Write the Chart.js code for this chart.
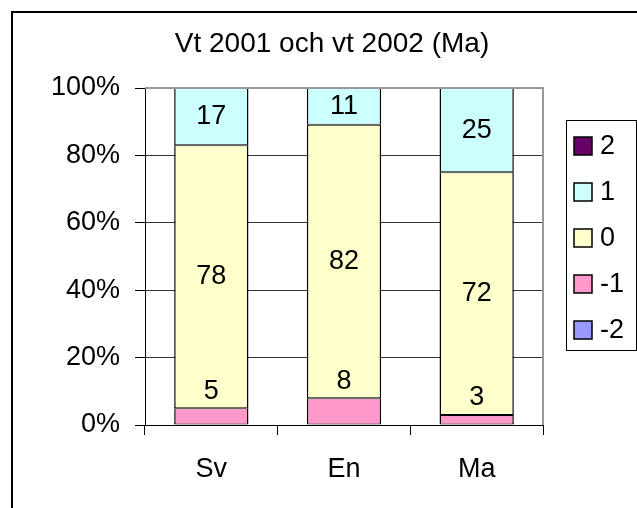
<!DOCTYPE html>
<html>
<head>
<meta charset="utf-8">
<script src="https://cdn.jsdelivr.net/npm/chart.js@4.4.0/dist/chart.umd.min.js"></script>
<style>
  html, body { margin: 0; padding: 0; background: #fff; overflow: hidden; }
  #wrap { width: 637px; height: 508px; position: relative; }
</style>
</head>
<body>
<div id="wrap"><canvas id="chart" width="637" height="508"></canvas></div>
<script>
// Kategorier och värden (antal elever per betyg)
const categories = ['Sv', 'En', 'Ma'];
const seriesNames = ['-2', '-1', '0', '1', '2'];
const valuesMinus2 = [0, 0, 0];
const valuesMinus1 = [5, 8, 3];
const values0 = [78, 82, 72];
const values1 = [17, 11, 25];
const values2 = [0, 0, 0];
const yTicks = [0, 20, 40, 60, 80, 100];

const colors = ['#9999FF', '#FF99CC', '#FFFFCC', '#CCFFFF', '#660066'];
const rawSeries = [valuesMinus2, valuesMinus1, values0, values1, values2];

// Summa per kategori, för 100%-staplar
const totals = categories.map((c, i) => rawSeries.reduce((s, arr) => s + arr[i], 0));

const FAMILY = 'Liberation Sans, Arial, sans-serif';
const FONT = { family: FAMILY, size: 27 };

// Rita ram, titel, etiketter och förklaring
const decor = {
  id: 'decor',
  beforeDraw(chart) {
    const ctx = chart.ctx;
    ctx.save();
    ctx.fillStyle = '#fff';
    ctx.fillRect(0, 0, chart.width, chart.height);
    ctx.restore();
  },
  afterDatasetsDraw(chart) {
    const ctx = chart.ctx;
    const area = chart.chartArea;
    ctx.save();
    // plot-ram (grå) upptill och höger
    ctx.strokeStyle = '#999';
    ctx.lineWidth = 2;
    ctx.beginPath();
    ctx.moveTo(area.left, area.top);
    ctx.lineTo(area.right, area.top);
    ctx.lineTo(area.right, area.bottom);
    ctx.stroke();

    // dataetiketter
    ctx.fillStyle = '#000';
    ctx.font = FONT.size + 'px ' + FAMILY;
    ctx.textAlign = 'center';
    ctx.textBaseline = 'middle';
    chart.data.datasets.forEach((ds, di) => {
      const meta = chart.getDatasetMeta(di);
      meta.data.forEach((el, i) => {
        const raw = ds.raw[i];
        if (!raw) return;
        let y = (el.y + el.base) / 2;
        if (ds.label === '-1') y = el.y - 17;
        ctx.fillText(String(raw), el.x, y);
      });
    });

    // titel
    ctx.font = '28px ' + FAMILY;
    ctx.fillText('Vt 2001 och vt 2002 (Ma)', 332, 44);

    // yttre ram
    ctx.strokeStyle = '#000';
    ctx.lineWidth = 2;
    ctx.beginPath();
    ctx.moveTo(12, chart.height + 5);
    ctx.lineTo(12, 12);
    ctx.lineTo(chart.width + 5, 12);
    ctx.stroke();

    // förklaring
    ctx.font = FONT.size + 'px ' + FAMILY;
    ctx.lineWidth = 1;
    ctx.strokeRect(566.5, 120.5, 70, 230);
    ctx.textAlign = 'left';
    const order = chart.data.datasets.slice().reverse();
    order.forEach((ds, k) => {
      const cy = 146 + k * 46;
      ctx.fillStyle = ds.backgroundColor;
      ctx.fillRect(574, cy - 9, 18, 18);
      ctx.strokeStyle = '#000';
      ctx.lineWidth = 1.5;
      ctx.strokeRect(574, cy - 9, 18, 18);
      ctx.fillStyle = '#000';
      ctx.fillText(ds.label, 600, cy + 1);
    });
    ctx.restore();
  }
};

new Chart(document.getElementById('chart').getContext('2d'), {
  type: 'bar',
  data: {
    labels: categories,
    datasets: rawSeries.map((arr, si) => ({
      label: seriesNames[si],
      raw: arr,
      data: arr.map((v, i) => v / totals[i] * 100),
      backgroundColor: colors[si],
      borderColor: '#000',
      borderWidth: { top: 1, bottom: 1, left: 1.5, right: 1.5 },
      borderSkipped: false,
      barPercentage: 0.56,
      categoryPercentage: 1
    }))
  },
  options: {
    responsive: false,
    animation: false,
    devicePixelRatio: 1,
    layout: { padding: { top: 88, right: 94, left: 0, bottom: 0 } },
    plugins: {
      legend: { display: false },
      title: { display: false },
      tooltip: { enabled: false }
    },
    scales: {
      x: {
        stacked: true,
        grid: { offset: true, drawOnChartArea: false, color: '#000', tickLength: 10 },
        border: { color: '#000', width: 1 },
        ticks: { color: '#000', font: FONT, padding: 18 },
        afterFit(scale) { scale.height = 83; }
      },
      y: {
        stacked: true,
        min: 0,
        max: 100,
        afterBuildTicks(scale) { scale.ticks = yTicks.map(v => ({ value: v })); },
        grid: {
          color: ctx => (ctx.tick && ctx.tick.value === 100) ? '#999' : '#333',
          tickColor: '#000',
          tickLength: 10,
          lineWidth: 1
        },
        border: { color: '#000', width: 1 },
        ticks: { color: '#000', font: FONT, padding: 15, callback: v => v + '%' },
        afterFit(scale) { scale.width = 145; }
      }
    }
  },
  plugins: [decor]
});
</script>
</body>
</html>
